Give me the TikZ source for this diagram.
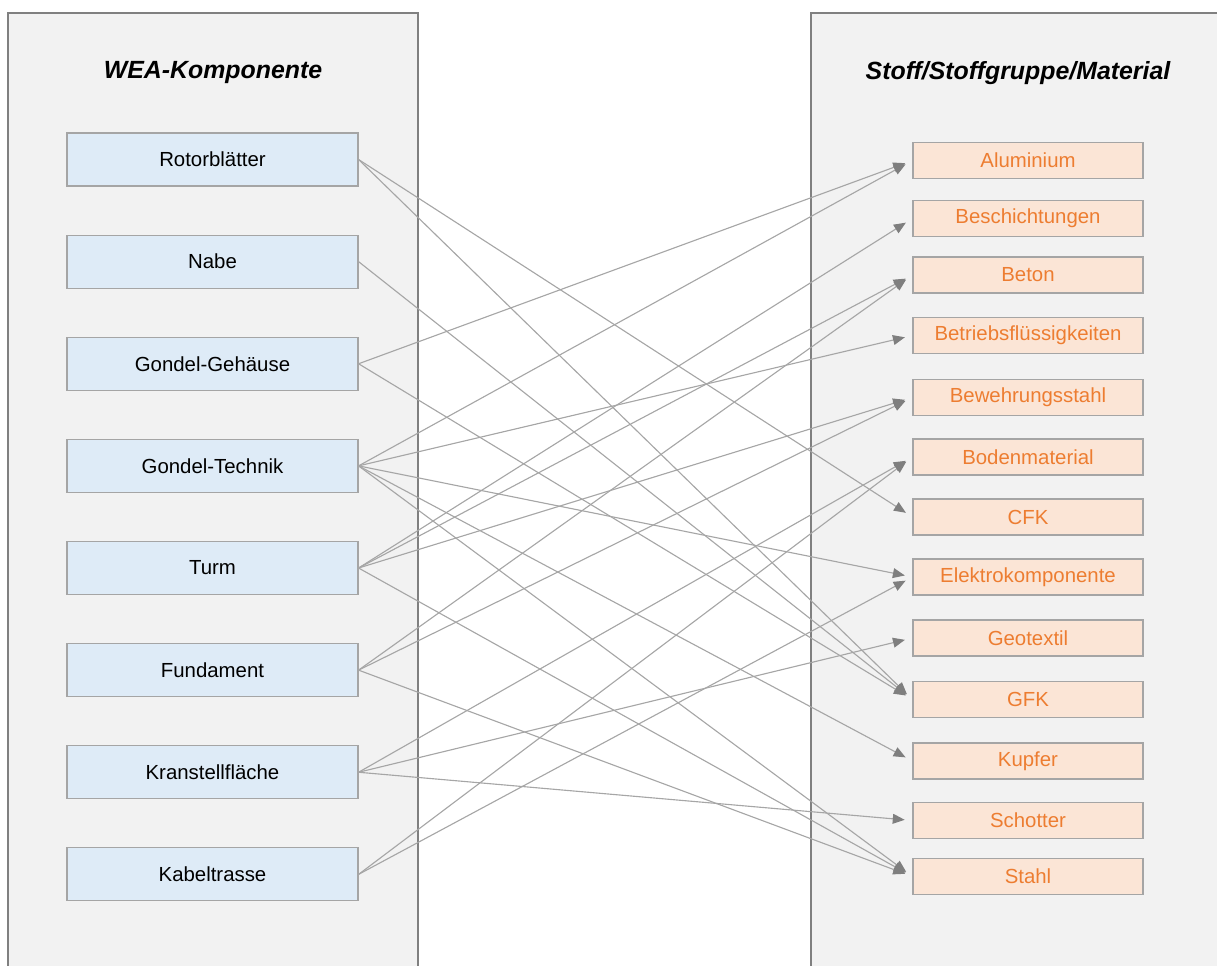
\documentclass[tikz,border=0pt]{standalone}
\usepackage{fontspec}
\setmainfont{Liberation Sans}
\usetikzlibrary{positioning,arrows.meta}

\definecolor{panelfill}{HTML}{F2F2F2}
\definecolor{panelline}{HTML}{808080}
\definecolor{partfill}{HTML}{DEEBF7}
\definecolor{matfill}{HTML}{FBE5D6}
\definecolor{mattext}{HTML}{ED7D31}
\definecolor{boxline}{HTML}{A5A5A5}
\definecolor{linkgray}{HTML}{A6A6A6}
\definecolor{tipgray}{HTML}{7F7F7F}

\begin{document}
\begin{tikzpicture}[
    node distance=12mm,
    panel/.style={draw=panelline, fill=panelfill, line width=2.1pt},
    heading/.style={font=\fontsize{17.7}{20}\selectfont\bfseries\itshape},
    part/.style={rectangle, draw=boxline, fill=partfill, line width=0.8pt, minimum width=7.275cm, minimum height=1.325cm, inner sep=0pt, font=\fontsize{14.5}{17}\selectfont},
    stuff/.style={rectangle, draw=boxline, fill=matfill, line width=0.8pt, minimum width=5.75cm, minimum height=0.9cm, inner sep=0pt, text=mattext, font=\fontsize{14.5}{17}\selectfont},
    link/.style={draw=linkgray, line width=0.8pt, shorten >=5.5pt, -{Triangle[length=8.5pt,width=7pt,color=tipgray]}}
    ]
    \path[use as bounding box] (0,0) rectangle (30.425,-24.125);
    \clip (0,0) rectangle (30.425,-24.125);

    % the two columns
    \draw[panel] (0.2,-25) rectangle (10.45,-0.325);
    \draw[panel] (20.275,-25) rectangle (31,-0.325);
    \node (lefthead) [heading] at (5.325,-1.825) {WEA-Komponente};
    \node (righthead) [heading] at (25.45,-1.825) {Stoff/Stoffgruppe/Material};

    % components
    \node (rotor) [part] at (5.3125,-3.9875) {Rotorblätter};
    \node (nabe) [part, below=of rotor] {Nabe};
    \node (gehaeuse) [part, below=of nabe] {Gondel-Gehäuse};
    \node (technik) [part, below=of gehaeuse] {Gondel-Technik};
    \node (turm) [part, below=of technik] {Turm};
    \node (fundament) [part, below=of turm] {Fundament};
    \node (kran) [part, below=of fundament] {Kranstellfläche};
    \node (kabel) [part, below=of kran] {Kabeltrasse};

    % materials
    \node (alu) [stuff] at (25.7,-4.0125) {Aluminium};
    \node (besch) [stuff] at (25.7,-5.4625) {Beschichtungen};
    \node (beton) [stuff] at (25.7,-6.875) {Beton};
    \node (betrieb) [stuff] at (25.7,-8.3875) {Betriebsflüssigkeiten};
    \node (bewehr) [stuff] at (25.7,-9.9375) {Bewehrungsstahl};
    \node (boden) [stuff] at (25.7,-11.425) {Bodenmaterial};
    \node (cfk) [stuff] at (25.7,-12.925) {CFK};
    \node (elektro) [stuff] at (25.7,-14.425) {Elektrokomponente};
    \node (geotex) [stuff] at (25.7,-15.95) {Geotextil};
    \node (gfk) [stuff] at (25.7,-17.4875) {GFK};
    \node (kupfer) [stuff] at (25.7,-19.025) {Kupfer};
    \node (schotter) [stuff] at (25.7,-20.5125) {Schotter};
    \node (stahl) [stuff] at (25.7,-21.9125) {Stahl};

    % links
    \draw[link] (rotor.east) -- (cfk.west);
    \draw[link] (rotor.east) -- (gfk.west);
    \draw[link] (nabe.east) -- (gfk.west);
    \draw[link] (gehaeuse.east) -- (alu.west);
    \draw[link] (gehaeuse.east) -- (gfk.west);
    \draw[link] (technik.east) -- (alu.west);
    \draw[link] (technik.east) -- (betrieb.west);
    \draw[link] (technik.east) -- (elektro.west);
    \draw[link] (technik.east) -- (kupfer.west);
    \draw[link] (technik.east) -- (stahl.west);
    \draw[link] (turm.east) -- (besch.west);
    \draw[link] (turm.east) -- (beton.west);
    \draw[link] (turm.east) -- (bewehr.west);
    \draw[link] (turm.east) -- (stahl.west);
    \draw[link] (fundament.east) -- (beton.west);
    \draw[link] (fundament.east) -- (bewehr.west);
    \draw[link] (fundament.east) -- (stahl.west);
    \draw[link] (kran.east) -- (boden.west);
    \draw[link] (kran.east) -- (geotex.west);
    \draw[link] (kran.east) -- (schotter.west);
    \draw[link] (kabel.east) -- (boden.west);
    \draw[link] (kabel.east) -- (elektro.west);
\end{tikzpicture}
\end{document}
